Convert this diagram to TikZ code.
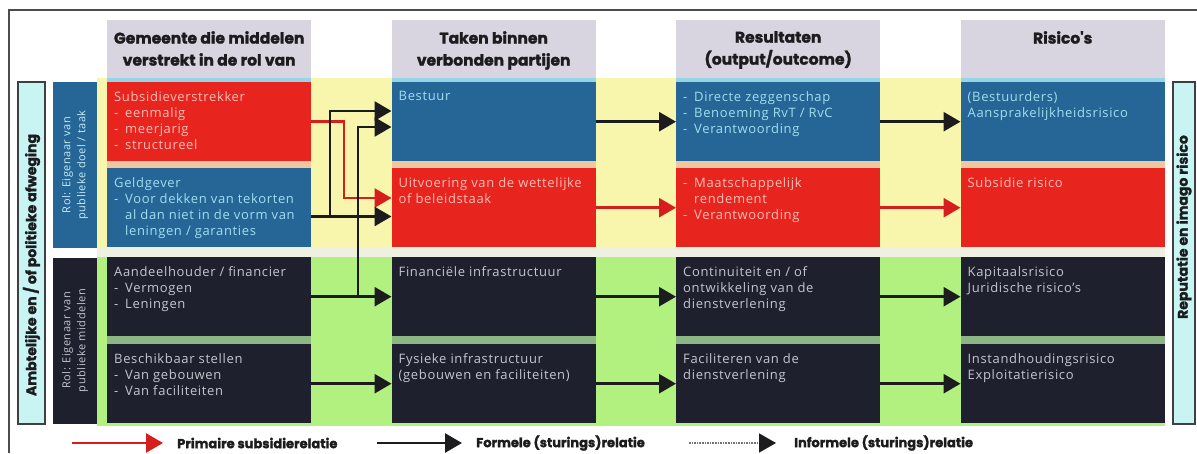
\documentclass[tikz,border=0pt]{standalone}
\usepackage{fontspec}
\setmainfont{Open Sans}[LetterSpace=5]
\newfontfamily\kopfont{Poppins}[BoldFeatures={FakeBold=1.6}]
\usetikzlibrary{arrows.meta}

\definecolor{celrood}{RGB}{232,36,30}
\definecolor{celblauw}{RGB}{38,102,150}
\definecolor{celdonker}{RGB}{30,32,46}
\definecolor{kopgrijs}{RGB}{216,212,224}
\definecolor{achtergeel}{RGB}{248,246,172}
\definecolor{achtergroen}{RGB}{178,240,128}
\definecolor{zijcyaan}{RGB}{200,244,244}
\definecolor{tekstroze}{RGB}{250,190,182}
\definecolor{tekstcyaan}{RGB}{160,222,238}
\definecolor{tekstgrijs}{RGB}{196,198,206}
\definecolor{pijlrood}{RGB}{214,30,28}
\definecolor{pijlzwart}{RGB}{28,28,30}
\definecolor{naadperzik}{RGB}{240,200,160}
\definecolor{naadwit}{RGB}{238,240,226}
\definecolor{naadgroen}{RGB}{140,182,132}
\definecolor{naadblauw}{RGB}{150,212,232}

\newcommand\st{\makebox[11pt][l]{-}}
\newcommand\ins{\hspace*{11pt}}
\newcommand\cel[1]{\parbox[c][61pt][t]{190pt}{\raggedright #1}}
\newcommand\kop[1]{\parbox[c][58pt][t]{204pt}{\centering\vspace*{11pt}#1}}

\begin{document}
\begin{tikzpicture}[x=1pt,y=1pt,yscale=-1,xscale=1,
  cel/.style={anchor=north west,inner xsep=7pt,inner ysep=9pt,font=\fontsize{13}{16}\selectfont},
  rood/.style={cel,fill=celrood,text=tekstroze},
  blauw/.style={cel,fill=celblauw,text=tekstcyaan},
  donker/.style={cel,fill=celdonker,text=tekstgrijs},
  kopblok/.style={anchor=north west,fill=kopgrijs,inner sep=0pt,text=pijlzwart,font=\kopfont\bfseries\fontsize{15.5}{22}\selectfont},
  rol/.style={rotate=90,minimum width=166pt,minimum height=44pt,inner sep=0pt,align=center,font=\fontsize{11}{15}\selectfont},
  zijtekst/.style={rotate=90,inner sep=0pt,text=pijlzwart,font=\kopfont\bfseries\fontsize{14}{14}\selectfont},
  legtekst/.style={anchor=west,inner sep=0pt,text=pijlzwart,font=\kopfont\bfseries\fontsize{13}{14}\selectfont},
  formeel/.style={line width=2.8pt,draw=pijlzwart,-{Triangle[length=17pt,width=19pt]}},
  primair/.style={formeel,draw=pijlrood},
  informeel/.style={line width=1.6pt,draw=black!55,densely dotted,-{Triangle[length=17pt,width=19pt,color=pijlzwart]}}]
\useasboundingbox (0,0) rectangle (1197,453);

%Shape: Frame
\draw [line width=1.2pt,draw=black!70] (9,453) -- (9,10) -- (1197,10);

%Shape: Background bands
\fill [achtergeel] (97,78) rectangle (1165,250);
\fill [naadwit] (97,247) rectangle (1165,257);
\fill [achtergroen] (97,257) rectangle (1165,426);
\foreach \x in {107,391.5,676,960.5}{
  \fill [naadblauw] (\x,77) rectangle (\x+204,82);
  \fill [naadperzik] (\x,160) rectangle (\x+204,168);
  \fill [naadgroen] (\x,336) rectangle (\x+204,344);
}

% Headers
\node [kopblok] (kop1) at (107,20) {\kop{Gemeente die middelen\\verstrekt in de rol van}};
\node [kopblok] (kop2) at (391.5,20) {\kop{Taken binnen\\verbonden partijen}};
\node [kopblok] (kop3) at (676,20) {\kop{Resultaten\\(output/outcome)}};
\node [kopblok] (kop4) at (960.5,20) {\kop{Risico's}};

% Side labels
\draw [fill=zijcyaan,draw=black!75,line width=1.2pt] (18,82) rectangle (45,424);
\node [zijtekst] (afweging) at (31.5,265) {Ambtelijke en / of politieke afweging};
\draw [fill=zijcyaan,draw=black!75,line width=1.2pt] (1173,82) rectangle (1195,424);
\node [zijtekst] (reputatie) at (1184,227) {Reputatie en imago risico};
\node [rol,fill=celblauw,text=tekstcyaan!60!white] (roltaak) at (75,165) {Rol: Eigenaar van\\publieke doel / taak};
\node [rol,fill=celdonker,text=tekstgrijs] (rolmiddelen) at (75,340.5) {Rol: Eigenaar van\\publieke middelen};

% Column 1
\node [rood] (subsidie) at (107,82) {\cel{Subsidieverstrekker\\\st eenmalig\\\st meerjarig\\\st structureel}};
\node [blauw] (geldgever) at (107,168) {\cel{Geldgever\\\st Voor dekken van tekorten\\\ins al dan niet in de vorm van\\\ins leningen / garanties}};
\node [donker] (aandeelhouder) at (107,257) {\cel{Aandeelhouder / financier\\\st Vermogen\\\st Leningen}};
\node [donker] (beschikbaar) at (107,344) {\cel{Beschikbaar stellen\\\st Van gebouwen\\\st Van faciliteiten}};

% Column 2
\node [blauw] (bestuur) at (391.5,82) {\cel{Bestuur}};
\node [rood] (uitvoering) at (391.5,168) {\cel{Uitvoering van de wettelijke\\of beleidstaak}};
\node [donker] (financieel) at (391.5,257) {\cel{Financiële infrastructuur}};
\node [donker] (fysiek) at (391.5,344) {\cel{Fysieke infrastructuur\\(gebouwen en faciliteiten)}};

% Column 3
\node [blauw] (zeggenschap) at (676,82) {\cel{\st Directe zeggenschap\\\st Benoeming RvT / RvC\\\st Verantwoording}};
\node [rood] (rendement) at (676,168) {\cel{\st Maatschappelijk\\\ins rendement\\\st Verantwoording}};
\node [donker] (continuiteit) at (676,257) {\cel{Continuiteit en / of\\ontwikkeling van de\\dienstverlening}};
\node [donker] (faciliteren) at (676,344) {\cel{Faciliteren van de\\dienstverlening}};

% Column 4
\node [blauw] (aansprakelijk) at (960.5,82) {\cel{(Bestuurders)\\Aansprakelijkheidsrisico}};
\node [rood] (subsidierisico) at (960.5,168) {\cel{Subsidie risico}};
\node [donker] (kapitaal) at (960.5,257) {\cel{Kapitaalsrisico\\Juridische risico's}};
\node [donker] (instandhouding) at (960.5,344) {\cel{Instandhoudingsrisico\\Exploitatierisico}};

% Connectors column 1 -> column 2
\coordinate (roodknik) at (344,198);
\coordinate (knik1) at (330,216.5);
\coordinate (boven1) at (330,111);
\coordinate (knik2) at (358,296.5);
\coordinate (boven2) at (358,127);
\draw [primair] (subsidie.east) -| (roodknik) -- (roodknik -| uitvoering.west);
\draw [formeel] (geldgever.east |- knik1) -- (knik1 -| uitvoering.west);
\draw [formeel] (knik1) -- (boven1) -- (boven1 -| bestuur.west);
\draw [formeel] (aandeelhouder.east) -- (financieel.west);
\draw [formeel] (knik2) -- (boven2) -- (boven2 -| bestuur.west);
\draw [formeel] (beschikbaar.east) -- (fysiek.west);

% Connectors columns 2 -> 3 -> 4
\draw [formeel] (bestuur.east) -- (zeggenschap.west);
\draw [primair] (uitvoering.east) -- (rendement.west);
\draw [formeel] (financieel.east) -- (continuiteit.west);
\draw [formeel] (fysiek.east) -- (faciliteren.west);
\draw [formeel] (zeggenschap.east) -- (aansprakelijk.west);
\draw [primair] (rendement.east) -- (subsidierisico.west);
\draw [formeel] (continuiteit.east) -- (kapitaal.west);
\draw [formeel] (faciliteren.east) -- (instandhouding.west);

% Legend
\coordinate (lp1) at (72,443);
\coordinate (lp2) at (163,443);
\coordinate (lf1) at (377,443);
\coordinate (lf2) at (462,443);
\coordinate (li1) at (689,443);
\coordinate (li2) at (776,443);
\draw [primair] (lp1) -- (lp2);
\draw [formeel] (lf1) -- (lf2);
\draw [informeel] (li1) -- (li2);
\node [legtekst] (primtekst) at (177,443) {Primaire subsidierelatie};
\node [legtekst] (formtekst) at (476,443) {Formele (sturings)relatie};
\node [legtekst] (infotekst) at (794,443) {Informele (sturings)relatie};

\end{tikzpicture}
\end{document}
